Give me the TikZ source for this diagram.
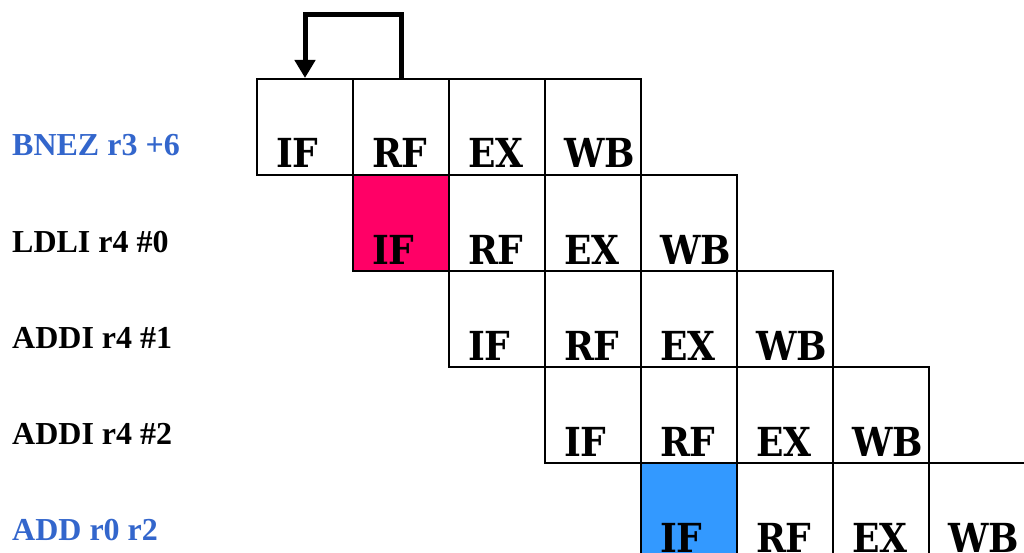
\documentclass[tikz,border=0pt]{standalone}
\usepackage{fontspec}
\setmainfont{Liberation Serif}
\newfontfamily\stagefont[FakeStretch=0.9]{DejaVu Serif}
\usetikzlibrary{arrows.meta}
\definecolor{hazard}{HTML}{FF0066}
\definecolor{fetchblue}{HTML}{3399FF}
\definecolor{branchblue}{HTML}{3366CC}
\tikzset{
  stage/.style={draw=black, line width=2pt, minimum width=96pt, minimum height=96pt,
    inner ysep=0pt, inner xsep=19pt, text width=58pt, align=left,
    text height=89pt, text depth=7pt,
    font=\stagefont\bfseries\fontsize{40}{42}\selectfont},
  instr/.style={anchor=base west, inner sep=0pt, font=\bfseries\fontsize{32}{34}\selectfont},
  loop/.style={line width=5pt, line join=miter, -{Triangle[width=20pt,length=18pt]}}
}
\begin{document}
\begin{tikzpicture}[x=1pt,y=-1pt]
\useasboundingbox (0,0) rectangle (1024,553);
% instruction labels
\node[instr, text=branchblue] (i1) at (12,156) {BNEZ r3 +6};
\node[instr] (i2) at (12,252) {LDLI r4 \#0};
\node[instr] (i3) at (12,348) {ADDI r4 \#1};
\node[instr] (i4) at (12,444) {ADDI r4 \#2};
\node[instr, text=branchblue] (i5) at (12,540) {ADD r0 r2};
% pipeline stages, one row per instruction, shifted one cycle each
\foreach \r/\fa in {1/white,2/hazard,3/white,4/white,5/fetchblue}{
  \pgfmathsetmacro{\x}{305+96*(\r-1)}
  \pgfmathsetmacro{\y}{127+96*(\r-1)}
  \node[stage, fill=\fa] (c\r-1) at (\x,\y) {IF};
  \node[stage] (c\r-2) at (\x+96,\y) {RF};
  \node[stage] (c\r-3) at (\x+192,\y) {EX};
  \node[stage] (c\r-4) at (\x+288,\y) {WB};
}
% branch feedback from RF back to IF
\coordinate (loopR) at (401,15);
\coordinate (loopL) at (305,15);
\draw[loop] (c1-2.north) -- (loopR) -- (loopL) -- (c1-1.north);
\end{tikzpicture}
\end{document}
